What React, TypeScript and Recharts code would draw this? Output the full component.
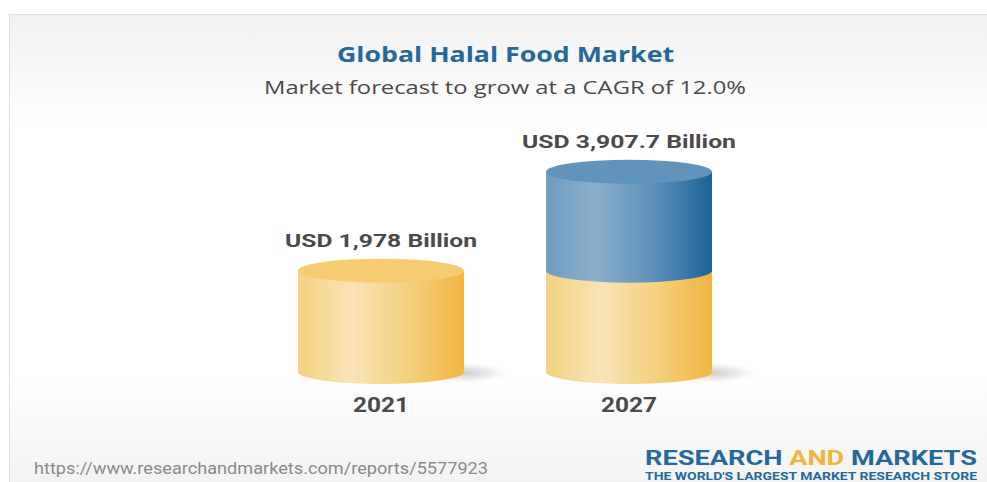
import { BarChart, Bar, XAxis, YAxis } from "recharts";

const years = ["2021", "2027"];
const totals = [1978, 3907.7];
const baseValues = [1978, 1978];
const labels = ["USD 1,978 Billion", "USD 3,907.7 Billion"];
const labelWidths = [192, 214];

const data = years.map((year, i) => ({
  year,
  base: baseValues[i],
  growth: totals[i] - baseValues[i],
  label: labels[i],
  labelWidth: labelWidths[i],
}));

const RY = 12;
const TEXT = "#4a4a4a";

function Cylinder(props: any) {
  const { x, y, width, height, payload, kind } = props;
  if (!height || height <= 0) return null;
  const rx = width / 2;
  const isTop = kind === "growth" || payload.growth === 0;
  const cx = x + rx;
  const bottom = y + height;
  const side = `M${x},${y} L${x},${bottom} A${rx},${RY} 0 0 0 ${x + width},${bottom} L${x + width},${y} Z`;
  return (
    <g>
      {kind === "base" && (
        <ellipse cx={x + width + 2} cy={bottom + 1} rx={46} ry={11} fill="url(#shadow)" />
      )}
      <path d={side} fill={kind === "growth" ? "url(#blueSide)" : "url(#yellowSide)"} />
      {isTop && (
        <ellipse cx={cx} cy={y} rx={rx} ry={RY} fill={kind === "growth" ? "#6094bd" : "#f5cc72"} />
      )}
      {isTop && (
        <text
          x={cx}
          y={y - 24}
          textAnchor="middle"
          fontFamily="Roboto"
          fontWeight={700}
          fontSize={19}
          fill={TEXT}
          textLength={payload.labelWidth}
          lengthAdjust="spacingAndGlyphs"
        >
          {payload.label}
        </text>
      )}
    </g>
  );
}

function YearTick({ x, y, payload }: any) {
  return (
    <text
      x={x}
      y={y + 32}
      textAnchor="middle"
      fontFamily="Roboto"
      fontWeight={700}
      fontSize={20}
      fill={TEXT}
      textLength={56}
      lengthAdjust="spacingAndGlyphs"
    >
      {payload.value}
    </text>
  );
}

export default function App() {
  return (
    <div style={{ position: "absolute", left: 0, top: 0, width: 987, height: 482, background: "#fff", overflow: "hidden" }}>
      <div
        style={{
          position: "absolute",
          left: 9,
          top: 14,
          width: 978,
          height: 468,
          boxSizing: "border-box",
          borderLeft: "1px solid #e0e0e0",
          borderTop: "1px solid #e0e0e0",
          background:
            "linear-gradient(to bottom, #f1f1f1 0px, #ffffff 110px, #ffffff 360px, #f3f3f3 468px)",
        }}
      />
      <div style={{ position: "absolute", left: 0, top: 0 }}>
        <BarChart
          width={987}
          height={482}
          data={data}
          margin={{ top: 167, right: 234, bottom: 30, left: 257 }}
          barSize={166}
          style={{ background: "transparent" }}
        >
          <defs>
            <linearGradient id="yellowSide" x1="0" y1="0" x2="1" y2="0">
              <stop offset="0%" stopColor="#f4d27f" />
              <stop offset="33%" stopColor="#f9e4b7" />
              <stop offset="68%" stopColor="#f4cf7c" />
              <stop offset="100%" stopColor="#efb53f" />
            </linearGradient>
            <linearGradient id="blueSide" x1="0" y1="0" x2="1" y2="0">
              <stop offset="0%" stopColor="#6f9cc0" />
              <stop offset="30%" stopColor="#8cafcb" />
              <stop offset="65%" stopColor="#5c90b8" />
              <stop offset="100%" stopColor="#1f6297" />
            </linearGradient>
            <radialGradient id="shadow">
              <stop offset="0%" stopColor="#cfcfcf" />
              <stop offset="55%" stopColor="#e6e6e6" stopOpacity={0.8} />
              <stop offset="100%" stopColor="#ffffff" stopOpacity={0} />
            </radialGradient>
          </defs>
          <XAxis dataKey="year" axisLine={false} tickLine={false} height={80} interval={0} tick={<YearTick />} />
          <YAxis hide domain={[0, 4000]} />
          <Bar dataKey="base" stackId="a" isAnimationActive={false} shape={(p: any) => <Cylinder {...p} kind="base" />} />
          <Bar dataKey="growth" stackId="a" isAnimationActive={false} shape={(p: any) => <Cylinder {...p} kind="growth" />} />
          <text x={505.5} y={62} textAnchor="middle" fontFamily="Open Sans" fontWeight={700} fontSize={22} fill="#25689c" textLength={337} lengthAdjust="spacingAndGlyphs">
            Global Halal Food Market
          </text>
          <text x={505} y={94} textAnchor="middle" fontFamily="Open Sans" fontSize={19} fill={TEXT} textLength={482} lengthAdjust="spacingAndGlyphs">
            Market forecast to grow at a CAGR of 12.0%
          </text>
          <text x={34} y={474} fontFamily="Roboto" fontSize={16} fill="#8a8a8a" textLength={454} lengthAdjust="spacingAndGlyphs">
            https://www.researchandmarkets.com/reports/5577923
          </text>
          <text x={645} y={465} fontFamily="Roboto" fontWeight={700} fontSize={21} fill="#25689c" textLength={332} lengthAdjust="spacingAndGlyphs">
            RESEARCH <tspan fill="#f0b63f">AND</tspan> MARKETS
          </text>
          <text x={645} y={480} fontFamily="Roboto" fontWeight={700} fontSize={10.5} fill="#25689c" textLength={332} lengthAdjust="spacingAndGlyphs">
            THE WORLD'S LARGEST MARKET RESEARCH STORE
          </text>
        </BarChart>
      </div>
    </div>
  );
}
